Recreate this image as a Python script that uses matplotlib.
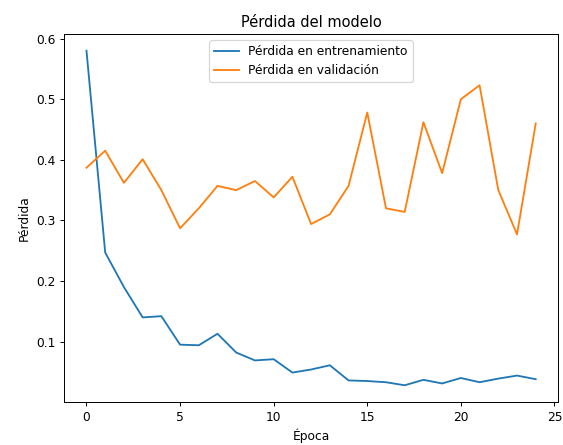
import matplotlib as mpl
mpl.use('Agg')
import matplotlib.pyplot as plt

epochs = list(range(25))
train_loss = [0.580, 0.247, 0.190, 0.140, 0.142, 0.095, 0.094, 0.113, 0.082, 0.069,
              0.071, 0.049, 0.054, 0.061, 0.036, 0.035, 0.033, 0.028, 0.037, 0.031,
              0.040, 0.033, 0.039, 0.044, 0.038]
val_loss = [0.387, 0.415, 0.362, 0.401, 0.350, 0.287, 0.320, 0.357, 0.350, 0.365,
            0.338, 0.372, 0.294, 0.310, 0.357, 0.478, 0.320, 0.314, 0.462, 0.378,
            0.500, 0.523, 0.350, 0.277, 0.460]

fig = plt.figure(figsize=(6.4, 445 / 88), dpi=88)
ax = fig.add_axes([64 / 563, 1 - 402 / 445, (558 - 64) / 563, (402 - 34) / 445])
ax.plot(epochs, train_loss, label='Pérdida en entrenamiento')
ax.plot(epochs, val_loss, label='Pérdida en validación')
ax.set_title('Pérdida del modelo')
ax.set_xlabel('Época')
ax.set_ylabel('Pérdida')
ax.legend(loc='upper center')
fig.savefig('out.png', dpi=88)
